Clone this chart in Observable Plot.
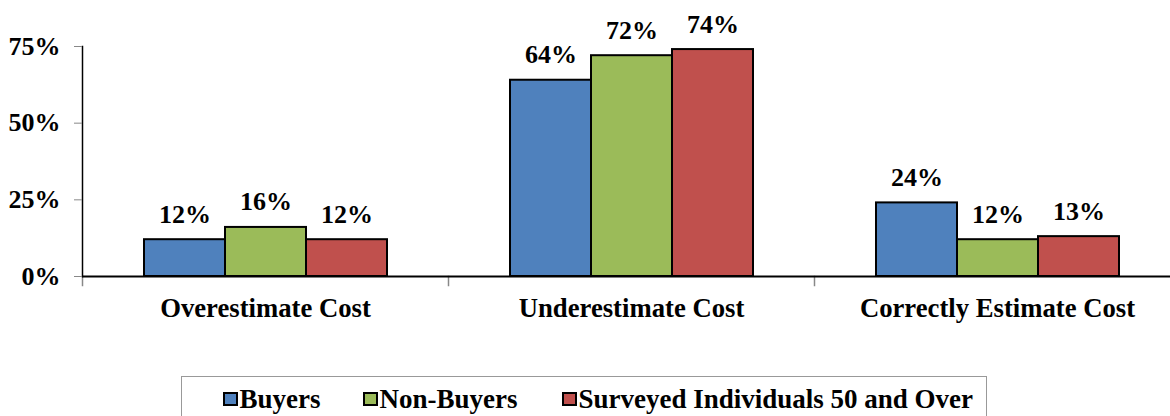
<!DOCTYPE html>
<html>
<head>
<meta charset="utf-8">
<script src="https://cdn.jsdelivr.net/npm/d3@7"></script>
<script src="https://cdn.jsdelivr.net/npm/@observablehq/plot@0.6"></script>
<style>
  html, body { margin: 0; padding: 0; background: white; }
  #wrap { position: relative; width: 1170px; height: 416px; overflow: hidden; font-family: "Liberation Serif", "Times New Roman", serif; }
  #legend { position: absolute; left: 181px; top: 376px; width: 806px; height: 60px; border: 1.5px solid #999; box-sizing: border-box; background: white; }
  #legend .item { position: absolute; top: 6.5px; display: flex; align-items: center; font-weight: bold; font-size: 27px; line-height: 30px; color: black; white-space: nowrap; }
  #legend .sw { width: 11px; height: 10px; border: 2px solid black; margin-right: 2px; box-sizing: content-box; }
</style>
</head>
<body>
<div id="wrap">
  <div id="chart"></div>
  <div id="legend"></div>
</div>
<script>
const categories = ["Overestimate Cost", "Underestimate Cost", "Correctly Estimate Cost"];
const series = ["Buyers", "Non-Buyers", "Surveyed Individuals 50 and Over"];
const buyers = [12, 64, 24];
const nonBuyers = [16, 72, 12];
const surveyed = [12, 74, 13];
const yTicks = [0, 25, 50, 75];
const colors = ["#4F81BD", "#9BBB59", "#C0504D"];

const seriesValues = [buyers, nonBuyers, surveyed];
const data = categories.flatMap((c, i) =>
  series.map((s, j) => ({category: c, series: s, value: seriesValues[j][i]}))
);

const chart = Plot.plot({
  width: 1170,
  height: 416,
  marginLeft: 81,
  marginRight: -10,
  marginTop: 46,
  marginBottom: 140,
  style: {fontFamily: "'Liberation Serif', 'Times New Roman', serif", fontWeight: "bold", fontSize: "26px", color: "black", background: "white", overflow: "visible"},
  fx: {domain: categories, padding: 0, label: null},
  x: {domain: series, paddingInner: 0, paddingOuter: 0.75, axis: null},
  y: {domain: [0, 75], label: null},
  color: {domain: series, range: colors},
  marks: [
    Plot.barY(data, {fx: "category", x: "series", y: "value", fill: "series", stroke: "black", strokeWidth: 2}),
    Plot.text(data, {fx: "category", x: "series", y: "value", text: d => d.value + "%", lineAnchor: "bottom", dy: -17, fontSize: 26, fontWeight: "bold", fill: "black"}),
    Plot.frame({anchor: "left", insetTop: 230, insetBottom: -9, stroke: "#888", strokeWidth: 1.5}),
    Plot.ruleY([0], {stroke: "black", strokeWidth: 2}),
    Plot.frame({anchor: "left", facetAnchor: "left", stroke: "black", strokeWidth: 1.5}),
    Plot.axisY({ticks: yTicks, tickFormat: d => d + "%", tickSize: 8, tickPadding: 14, stroke: "#888", fill: "black", label: null, fontSize: 26, fontWeight: "bold"}),
    Plot.axisFx({anchor: "bottom", tickSize: 0, tickPadding: 22, label: null, fontSize: 26.7, fontWeight: "bold", fill: "black"})
  ]
});
document.getElementById("chart").appendChild(chart);

const legend = document.getElementById("legend");
const lefts = [40.5, 180.5, 379.5];
series.forEach((s, i) => {
  const item = document.createElement("div");
  item.className = "item";
  item.style.left = lefts[i] + "px";
  const sw = document.createElement("span");
  sw.className = "sw";
  sw.style.background = colors[i];
  const t = document.createElement("span");
  t.textContent = s;
  item.appendChild(sw);
  item.appendChild(t);
  legend.appendChild(item);
});
</script>
</body>
</html>
